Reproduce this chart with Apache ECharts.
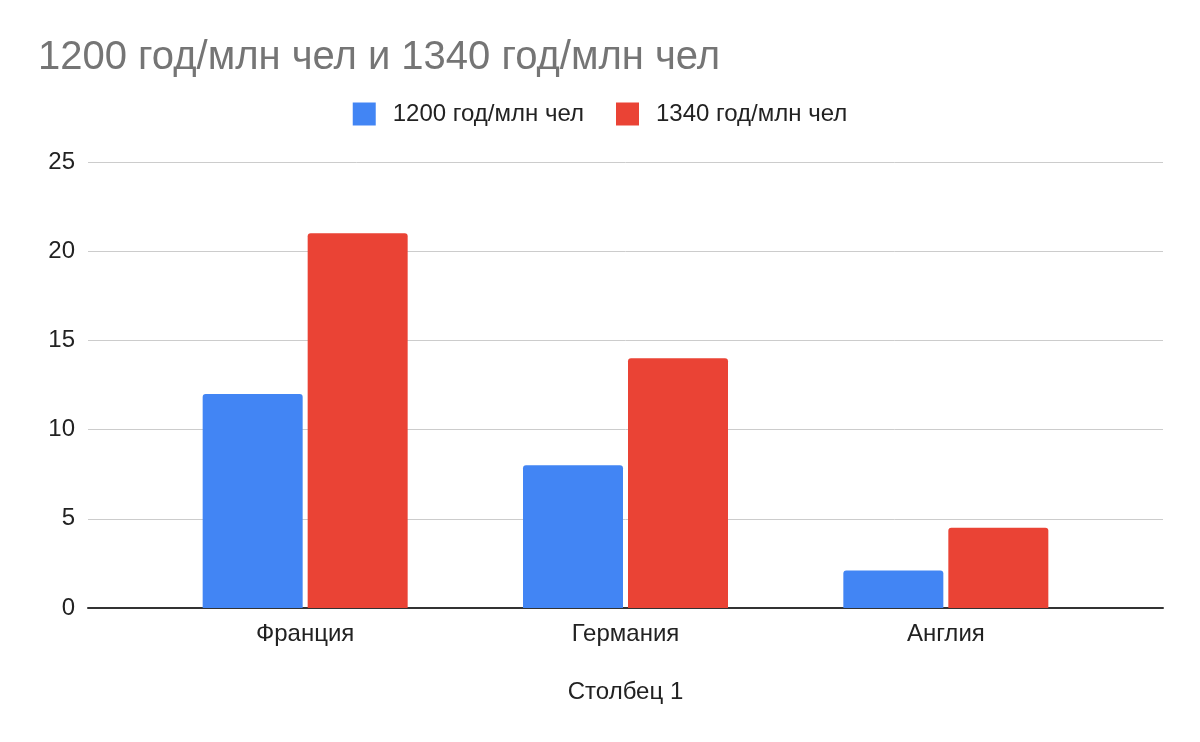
<!DOCTYPE html>
<html>
<head>
<meta charset="utf-8">
<script src="https://cdn.jsdelivr.net/npm/echarts@6/dist/echarts.min.js"></script>
<style>
  html, body { margin: 0; padding: 0; background: #fff; }
  #chart { width: 1200px; height: 742px; }
</style>
</head>
<body>
<div id="chart"></div>
<script>
var countries = ['Франция', 'Германия', 'Англия'];
var pop1200 = [12, 8, 2.1];
var pop1340 = [21, 14, 4.5];
var seriesNames = ['1200 год/млн чел', '1340 год/млн чел'];

var chart = echarts.init(document.getElementById('chart'));

var font = '"Liberation Sans", Arial, sans-serif';

var option = {
    backgroundColor: '#fff',
    animation: false,
    title: {
        text: '1200 год/млн чел и 1340 год/млн чел',
        left: 33,
        top: 33,
        textStyle: {
            color: '#757575',
            fontSize: 40,
            fontWeight: 'normal',
            fontFamily: font
        }
    },
    legend: {
        top: 97,
        left: 'center',
        itemWidth: 23,
        itemHeight: 23,
        itemGap: 32,
        icon: 'rect',
        itemStyle: { borderRadius: 2 },
        textStyle: {
            color: '#222',
            fontSize: 24,
            fontFamily: font,
            padding: [0, 0, 0, 12]
        },
        data: seriesNames
    },
    grid: [
        { left: 88, right: 37, top: 162, bottom: 134 },
        { left: 145, right: 94, top: 162, bottom: 134 }
    ],
    xAxis: [
        {
            gridIndex: 0,
            type: 'value',
            min: 0,
            max: 1,
            axisLine: { show: true, lineStyle: { color: '#333', width: 2 } },
            axisTick: { show: false },
            axisLabel: { show: false },
            splitLine: { show: false }
        },
        {
            gridIndex: 1,
            type: 'category',
            data: countries,
            axisLine: { show: false },
            axisTick: { show: false },
            axisLabel: {
                color: '#222',
                fontSize: 24,
                fontFamily: font,
                margin: 14
            },
            name: 'Столбец 1',
            nameLocation: 'middle',
            nameGap: 72,
            nameTextStyle: {
                color: '#222',
                fontSize: 24,
                fontFamily: font
            }
        }
    ],
    yAxis: [
        {
            gridIndex: 0,
            type: 'value',
            min: 0,
            max: 25,
            interval: 5,
            axisLine: { show: false },
            axisTick: { show: false },
            axisLabel: {
                color: '#222',
                fontSize: 24,
                fontFamily: font,
                margin: 13
            },
            splitLine: { lineStyle: { color: '#ccc', width: 1 } }
        },
        {
            gridIndex: 1,
            type: 'value',
            min: 0,
            max: 25,
            interval: 5,
            show: false,
            splitLine: { show: false }
        }
    ],
    series: [
        {
            name: seriesNames[0],
            type: 'bar',
            xAxisIndex: 1,
            yAxisIndex: 1,
            data: pop1200,
            barWidth: 100,
            barGap: '5%',
            itemStyle: { color: '#4285F4', borderRadius: [3, 3, 0, 0] }
        },
        {
            name: seriesNames[1],
            type: 'bar',
            xAxisIndex: 1,
            yAxisIndex: 1,
            data: pop1340,
            barWidth: 100,
            barGap: '5%',
            itemStyle: { color: '#EA4335', borderRadius: [3, 3, 0, 0] }
        }
    ]
};

chart.setOption(option);
</script>
</body>
</html>
